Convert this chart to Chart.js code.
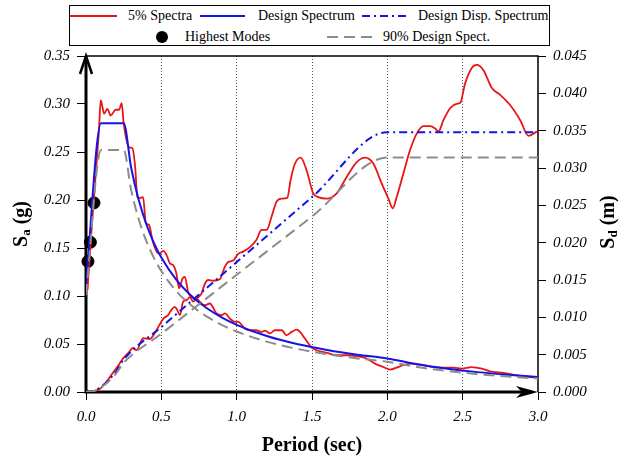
<!DOCTYPE html>
<html>
<head>
<meta charset="utf-8">
<script src="https://cdn.jsdelivr.net/npm/chart.js@4.4.1/dist/chart.umd.min.js"></script>
<style>
    body { margin: 0; background: #fff; }
    #contenedor { position: relative; width: 624px; height: 463px; font-family: 'Liberation Serif', serif; }
    #grafica { position: absolute; left: 0; top: 0; }
    #leyenda { position: absolute; left: 69px; top: 5px; width: 481px; height: 41px; box-sizing: border-box; border: 1px solid #000; background: #fff; }
    #leyenda svg { position: absolute; left: 0; top: 0; }
    .item { position: absolute; font-size: 14px; line-height: 16px; white-space: nowrap; color: #000; }
</style>
</head>
<body>
<div id="contenedor">
    <canvas id="grafica" width="624" height="463"></canvas>
    <div id="leyenda">
        <svg width="479" height="39">
            <line x1="0" y1="10" x2="47" y2="10" stroke="rgb(235,20,20)" stroke-width="2"/>
            <line x1="130" y1="10" x2="175" y2="10" stroke="rgb(20,20,230)" stroke-width="2"/>
            <line x1="292" y1="10" x2="338" y2="10" stroke="rgb(20,20,230)" stroke-width="2" stroke-dasharray="8,4,2,4"/>
            <circle cx="92" cy="31" r="6" fill="#000"/>
            <line x1="257" y1="31" x2="303" y2="31" stroke="#8c8c8c" stroke-width="2" stroke-dasharray="11,6"/>
        </svg>
        <span class="item" style="left:58px; top:2px;">5% Spectra</span>
        <span class="item" style="left:188px; top:2px;">Design Spectrum</span>
        <span class="item" style="left:348px; top:2px;">Design Disp. Spectrum</span>
        <span class="item" style="left:115px; top:23px;">Highest Modes</span>
        <span class="item" style="left:313px; top:23px;">90% Design Spect.</span>
    </div>
</div>
<script>
// datos: [periodo (s), valor]
const espectroSa = [
    [0.01, 0.106], [0.02, 0.13], [0.04, 0.176], [0.065, 0.228], [0.085, 0.27], [0.098, 0.304],
    [0.12, 0.29], [0.142, 0.295], [0.164, 0.288], [0.197, 0.294], [0.219, 0.294], [0.237, 0.301],
    [0.25, 0.28], [0.286, 0.255], [0.308, 0.254], [0.326, 0.235], [0.341, 0.203], [0.352, 0.202],
    [0.379, 0.203], [0.397, 0.176], [0.419, 0.174], [0.441, 0.158], [0.463, 0.148], [0.485, 0.144],
    [0.513, 0.147], [0.535, 0.1425], [0.557, 0.134], [0.579, 0.132], [0.6, 0.1235], [0.618, 0.108],
    [0.64, 0.118], [0.656, 0.12], [0.678, 0.104], [0.7, 0.099], [0.734, 0.0974], [0.756, 0.0938],
    [0.789, 0.0904], [0.822, 0.0922], [0.866, 0.0818], [0.9, 0.08], [0.922, 0.0818], [0.955, 0.0765],
    [0.988, 0.073], [1.01, 0.073], [1.055, 0.066], [1.088, 0.0643], [1.13, 0.0643], [1.165, 0.0626],
    [1.19, 0.064], [1.22, 0.061], [1.254, 0.0643], [1.3, 0.0643], [1.33, 0.059], [1.365, 0.0626],
    [1.4, 0.065], [1.42, 0.0626], [1.453, 0.0557], [1.498, 0.0463], [1.531, 0.0435], [1.6, 0.0407],
    [1.664, 0.0383], [1.73, 0.0383], [1.8, 0.0372], [1.863, 0.0348], [1.918, 0.0296], [1.974, 0.026],
    [2.018, 0.0234], [2.085, 0.0268], [2.15, 0.0296], [2.24, 0.0278], [2.306, 0.026], [2.372, 0.0254],
    [2.44, 0.0254], [2.494, 0.0244], [2.56, 0.026], [2.627, 0.0244], [2.68, 0.0216], [2.77, 0.0198],
    [2.86, 0.0174], [2.95, 0.0156], [3.0, 0.015]
];

const espectroSd = [
    [0.025, 0.0], [0.09, 0.0004], [0.13, 0.0012], [0.18, 0.0026], [0.22, 0.0037], [0.246, 0.0045],
    [0.28, 0.0052], [0.312, 0.0059], [0.335, 0.0056], [0.379, 0.0072], [0.423, 0.0071], [0.468, 0.0083],
    [0.512, 0.0098], [0.545, 0.0103], [0.567, 0.011], [0.589, 0.0114], [0.605, 0.011], [0.623, 0.0103],
    [0.645, 0.0121], [0.667, 0.0123], [0.689, 0.0127], [0.711, 0.0121], [0.734, 0.0125], [0.767, 0.0132],
    [0.789, 0.0145], [0.811, 0.015], [0.844, 0.0149], [0.888, 0.0151], [0.922, 0.0168], [0.944, 0.0174],
    [0.977, 0.0176], [1.01, 0.0185], [1.043, 0.0188], [1.088, 0.0194], [1.132, 0.0204], [1.165, 0.0217],
    [1.199, 0.0217], [1.232, 0.0235], [1.265, 0.0255], [1.298, 0.0259], [1.336, 0.026], [1.358, 0.0284],
    [1.387, 0.0306], [1.425, 0.0314], [1.464, 0.0297], [1.508, 0.0266], [1.542, 0.0261], [1.597, 0.0259],
    [1.664, 0.0266], [1.73, 0.0288], [1.797, 0.0308], [1.852, 0.0314], [1.907, 0.0306], [1.963, 0.0279],
    [2.007, 0.0259], [2.036, 0.0246], [2.062, 0.0261], [2.107, 0.0293], [2.151, 0.0324], [2.195, 0.0346],
    [2.24, 0.0356], [2.284, 0.0356], [2.317, 0.0353], [2.34, 0.0349], [2.372, 0.0364], [2.417, 0.038],
    [2.461, 0.0386], [2.483, 0.0387], [2.516, 0.0413], [2.56, 0.0434], [2.594, 0.0438], [2.638, 0.0431],
    [2.694, 0.0407], [2.749, 0.0398], [2.816, 0.0384], [2.882, 0.0364], [2.937, 0.0343], [2.993, 0.0349]
];

const disenoSa = [
    [0, 0.112], [0.1, 0.28], [0.25, 0.28], [0.3, 0.2333], [0.35, 0.2], [0.4, 0.175], [0.45, 0.1556],
    [0.5, 0.14], [0.6, 0.1167], [0.7, 0.1], [0.8, 0.0875], [0.9, 0.0778], [1.0, 0.07], [1.2, 0.0583],
    [1.4, 0.05], [1.6, 0.0438], [1.8, 0.0389], [2.0, 0.035], [2.2, 0.0289], [2.4, 0.0243],
    [2.6, 0.0207], [2.8, 0.0179], [3.0, 0.0156]
];

const disenoSd = [
    [0, 0], [0.05, 0.00012], [0.1, 0.0007], [0.15, 0.00157], [0.2, 0.00278], [0.25, 0.00435],
    [0.5, 0.0087], [1.0, 0.0174], [1.5, 0.0261], [2.0, 0.0348], [2.5, 0.0348], [3.0, 0.0348]
];

const diseno90Sa = [
    [0, 0.101], [0.1, 0.252], [0.25, 0.252], [0.3, 0.21], [0.35, 0.18], [0.4, 0.1575], [0.45, 0.14],
    [0.5, 0.126], [0.6, 0.105], [0.7, 0.09], [0.8, 0.0788], [0.9, 0.07], [1.0, 0.063], [1.2, 0.0525],
    [1.4, 0.045], [1.6, 0.0394], [1.8, 0.035], [2.0, 0.0315], [2.2, 0.026], [2.4, 0.0219],
    [2.6, 0.0186], [2.8, 0.0161], [3.0, 0.014]
];

const diseno90Sd = [
    [0, 0], [0.05, 0.00011], [0.1, 0.00063], [0.15, 0.00141], [0.2, 0.0025], [0.25, 0.0039],
    [0.5, 0.0078], [1.0, 0.0157], [1.5, 0.0235], [2.0, 0.0314], [2.5, 0.0314], [3.0, 0.0314]
];

const modosAltos = [[0.013, 0.136], [0.029, 0.156], [0.053, 0.197]];

const rojo = 'rgb(235, 20, 20)';
const azul = 'rgb(20, 20, 230)';
const gris = '#8c8c8c';
const fuenteTicks = { family: "'Liberation Serif', serif", size: 15, style: 'italic' };

function puntos(lista) {
    return lista.map(p => ({ x: p[0], y: p[1] }));
}

// titulo vertical con subindice (S_a, S_d)
function tituloVertical(ctx, x, y, sub, resto) {
    ctx.save();
    ctx.translate(x, y);
    ctx.rotate(-Math.PI / 2);
    ctx.fillStyle = '#000';
    ctx.textBaseline = 'middle';
    ctx.textAlign = 'left';
    ctx.font = "bold 20px 'Liberation Serif'";
    const wS = ctx.measureText('S').width;
    const wR = ctx.measureText(resto).width;
    ctx.font = "bold 13px 'Liberation Serif'";
    const wSub = ctx.measureText(sub).width;
    let cx = -(wS + wSub + wR) / 2;
    ctx.font = "bold 20px 'Liberation Serif'";
    ctx.fillText('S', cx, 0);
    cx += wS;
    ctx.font = "bold 13px 'Liberation Serif'";
    ctx.fillText(sub, cx, 5);
    cx += wSub;
    ctx.font = "bold 20px 'Liberation Serif'";
    ctx.fillText(resto, cx, 0);
    ctx.restore();
}

// marco, flechas y titulos de ejes
const marcoEjes = {
    id: 'marcoEjes',
    beforeDatasetsDraw(chart) {
        const ctx = chart.ctx;
        const a = chart.chartArea;
        ctx.save();
        ctx.strokeStyle = '#000';
        ctx.lineWidth = 1.5;
        ctx.beginPath();
        ctx.moveTo(a.left, a.top);
        ctx.lineTo(a.right, a.top);
        ctx.lineTo(a.right, a.bottom);
        ctx.stroke();

        ctx.lineWidth = 3;
        ctx.beginPath();
        ctx.moveTo(a.left, a.top + 2);
        ctx.lineTo(a.left, a.bottom);
        ctx.lineTo(a.right - 6, a.bottom);
        ctx.stroke();

        // flecha hacia arriba
        ctx.lineWidth = 2.5;
        ctx.beginPath();
        ctx.moveTo(a.left - 6, a.top + 18);
        ctx.lineTo(a.left, a.top);
        ctx.lineTo(a.left + 6, a.top + 18);
        ctx.stroke();

        // flecha hacia la derecha
        ctx.fillStyle = '#000';
        ctx.beginPath();
        ctx.moveTo(a.right, a.bottom);
        ctx.lineTo(a.right - 22, a.bottom - 6);
        ctx.lineTo(a.right - 16, a.bottom);
        ctx.lineTo(a.right - 22, a.bottom + 6);
        ctx.closePath();
        ctx.fill();
        ctx.restore();
    },
    afterDraw(chart) {
        const ctx = chart.ctx;
        const a = chart.chartArea;
        tituloVertical(ctx, 22, 224, 'a', ' (g)');
        tituloVertical(ctx, 609, 222, 'd', ' (m)');
        ctx.save();
        ctx.fillStyle = '#000';
        ctx.font = "bold 20px 'Liberation Serif'";
        ctx.textAlign = 'center';
        ctx.textBaseline = 'middle';
        ctx.fillText('Period (sec)', (a.left + a.right) / 2, 446);
        ctx.restore();
    }
};

document.addEventListener('DOMContentLoaded', function () {
    graficaEspectros();
});

function graficaEspectros() {
    const data = {
        datasets: [
            { data: puntos(diseno90Sa), yAxisID: 'y', borderColor: gris, borderWidth: 2, borderDash: [11, 6] },
            { data: puntos(diseno90Sd), yAxisID: 'y1', borderColor: gris, borderWidth: 2, borderDash: [11, 6] },
            { data: puntos(disenoSa), yAxisID: 'y', borderColor: azul, borderWidth: 2 },
            { data: puntos(disenoSd), yAxisID: 'y1', borderColor: azul, borderWidth: 2, borderDash: [8, 4, 2, 4] },
            { data: puntos(espectroSa), yAxisID: 'y', borderColor: rojo, borderWidth: 1.8 },
            { data: puntos(espectroSd), yAxisID: 'y1', borderColor: rojo, borderWidth: 1.8 },
            {
                data: puntos(modosAltos), yAxisID: 'y', showLine: false, clip: false,
                pointRadius: 6, pointBackgroundColor: '#000', pointBorderColor: '#000'
            }
        ]
    };

    const config = {
        type: 'line',
        data: data,
        options: {
            responsive: false,
            animation: false,
            layout: { padding: { top: 56, left: 0, right: 0, bottom: 0 } },
            elements: {
                point: { radius: 0 },
                line: { cubicInterpolationMode: 'monotone', fill: false }
            },
            plugins: {
                legend: { display: false },
                tooltip: { enabled: false }
            },
            scales: {
                x: {
                    type: 'linear', min: 0, max: 3,
                    ticks: { stepSize: 0.5, callback: v => v.toFixed(1), font: fuenteTicks, color: '#000', padding: 8 },
                    grid: {
                        color: c => (c.tick && (c.tick.value === 0 || c.tick.value === 3)) ? 'rgba(0,0,0,0)' : '#555',
                        lineWidth: 1, tickLength: 8, tickColor: '#000', tickWidth: 1
                    },
                    border: { display: false, dash: [1, 2] },
                    afterFit: s => { s.height = 71; }
                },
                y: {
                    position: 'left', min: 0, max: 0.35,
                    ticks: { stepSize: 0.05, callback: v => v.toFixed(2), font: fuenteTicks, color: '#000', padding: 7 },
                    grid: { drawOnChartArea: false, tickLength: 9, tickColor: '#000', tickWidth: 1 },
                    border: { display: false },
                    afterFit: s => { s.width = 86; }
                },
                y1: {
                    position: 'right', min: 0, max: 0.045,
                    ticks: { stepSize: 0.005, callback: v => v.toFixed(3), font: fuenteTicks, color: '#000', padding: 7 },
                    grid: { drawOnChartArea: false, tickLength: 8, tickColor: '#000', tickWidth: 1 },
                    border: { display: false },
                    afterFit: s => { s.width = 86; }
                }
            }
        },
        plugins: [marcoEjes]
    };

    const ctx = document.getElementById('grafica').getContext('2d');
    new Chart(ctx, config);
}
</script>
</body>
</html>
